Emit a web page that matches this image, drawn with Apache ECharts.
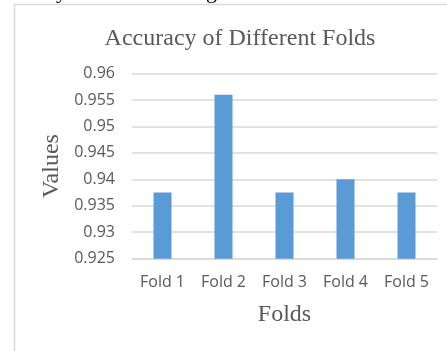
<!DOCTYPE html>
<html>
<head>
<meta charset="utf-8">
<script src="https://cdn.jsdelivr.net/npm/echarts@6/dist/echarts.min.js"></script>
<style>
  html, body { margin: 0; padding: 0; background: #fff; }
  #chart { width: 447px; height: 351px; }
</style>
</head>
<body>
<div id="chart"></div>
<script>
// Accuracy per cross-validation fold
const folds = ['Fold 1', 'Fold 2', 'Fold 3', 'Fold 4', 'Fold 5'];
const accuracy = [0.9375, 0.956, 0.9375, 0.94, 0.9375];
const yMin = 0.925;
const yMax = 0.96;
const yStep = 0.005;

const chart = echarts.init(document.getElementById('chart'), null, { renderer: 'canvas' });

const serif = '"Liberation Serif", "DejaVu Serif", serif';
const sans = '"Open Sans", "Liberation Sans", sans-serif';
const textGrey = '#595959';
const lineGrey = '#D9D9D9';

chart.setOption({
  animation: false,
  backgroundColor: '#ffffff',
  title: {
    text: 'Accuracy of Different Folds',
    left: 235,
    top: 22,
    textAlign: 'center',
    textStyle: { fontFamily: serif, fontSize: 24, fontWeight: 'normal', color: textGrey }
  },
  graphic: [
    {
      type: 'rect',
      shape: { x: 14.5, y: 4.5, width: 520, height: 420 },
      style: { fill: 'none', stroke: lineGrey, lineWidth: 1.5 },
      silent: true,
      z: -1
    },
    {
      type: 'text',
      left: 56, top: -19,
      style: { text: 'y', font: '22px "Liberation Serif", serif', fill: '#000' }
    },
    {
      type: 'text',
      left: 206, top: -19,
      style: { text: 'g', font: '22px "Liberation Serif", serif', fill: '#000' }
    }
  ],
  grid: {
    left: 132,
    right: 10,
    top: 73.5,
    bottom: 92.3,
    outerBoundsMode: 'none'
  },
  xAxis: {
    type: 'category',
    data: folds,
    name: 'Folds',
    nameLocation: 'middle',
    nameGap: 44,
    nameTextStyle: { fontFamily: serif, fontSize: 24, color: textGrey },
    axisLine: { lineStyle: { color: lineGrey, width: 1.5 } },
    axisTick: { show: false },
    axisLabel: { fontFamily: sans, fontSize: 16, color: textGrey, margin: 16 }
  },
  yAxis: {
    type: 'value',
    min: yMin,
    max: yMax,
    interval: yStep,
    name: 'Values',
    nameLocation: 'middle',
    nameRotate: 90,
    nameGap: 65,
    nameTextStyle: { fontFamily: serif, fontSize: 24, color: textGrey },
    axisLine: { show: false },
    axisTick: { show: false },
    splitLine: { lineStyle: { color: lineGrey, width: 1.5 } },
    axisLabel: {
      fontFamily: sans, fontSize: 16, color: textGrey, margin: 17,
      formatter: v => String(parseFloat(v.toFixed(3)))
    }
  },
  series: [{
    type: 'bar',
    data: accuracy,
    barWidth: 18,
    itemStyle: { color: '#5B9BD5' }
  }]
});
</script>
</body>
</html>
